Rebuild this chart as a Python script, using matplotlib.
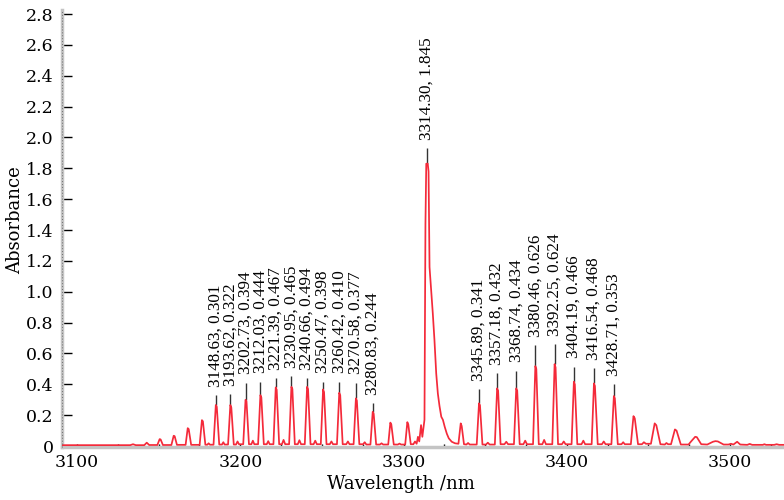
import numpy as np
import matplotlib
matplotlib.use('agg')
import matplotlib.pyplot as plt
from matplotlib.ticker import FuncFormatter, MultipleLocator

plt.rcParams['font.family'] = ['DejaVu Serif']

# spectrum (nm, absorbance), grouped per band
wl = [
    3090.8, 3132.6, 3134.3, 3136.0,
    3141.2, 3142.7, 3144.2,
    3149.2, 3150.6, 3151.2, 3152.6,
    3157.8, 3159.2, 3159.8, 3161.2,
    3166.5, 3167.8, 3168.4, 3169.9,
    3175.1, 3176.5, 3177.1, 3178.6,
    3179.8, 3180.6, 3181.4,
    3183.6, 3185.0, 3185.6, 3187.1,
    3188.8, 3189.6, 3190.4,
    3192.5, 3193.9, 3194.5, 3196.0,
    3197.4, 3198.3, 3199.2,
    3201.8, 3203.2, 3203.8, 3205.3,
    3206.8, 3207.7, 3208.6,
    3210.9, 3212.3, 3212.9, 3214.4,
    3216.2, 3217.1, 3218.0,
    3220.3, 3221.7, 3222.3, 3223.8,
    3225.5, 3226.5, 3227.5,
    3229.9, 3231.3, 3231.9, 3233.4,
    3235.2, 3236.2, 3237.2,
    3239.5, 3240.9, 3241.5, 3243.0,
    3244.9, 3245.9, 3246.9,
    3249.3, 3250.7, 3251.3, 3252.8,
    3254.8, 3255.8, 3256.8,
    3259.2, 3260.6, 3261.2, 3262.7,
    3264.9, 3265.9, 3266.9,
    3269.4, 3270.8, 3271.4, 3272.9,
    3275.2, 3276.2, 3277.2,
    3279.7, 3281.1, 3281.7, 3283.2,
    3285.5, 3286.5, 3287.5,
    3290.6, 3291.9, 3292.5, 3294.0,
    3296.5, 3297.5, 3298.5,
    3301.0, 3302.3, 3302.9, 3304.4,
    3306.0, 3307.0, 3308.0, 3308.8, 3309.6, 3310.7, 3311.5, 3312.1, 3312.8,
    3313.0, 3313.4, 3313.9, 3314.8, 3315.3, 3315.9, 3316.9, 3317.9, 3318.9,
    3320.0, 3321.0, 3322.0, 3323.1, 3324.1, 3325.2, 3326.5, 3327.7, 3329.5, 3331.5,
    3333.6, 3335.0, 3335.6, 3337.0,
    3338.5, 3339.5, 3340.5,
    3344.8, 3346.2, 3346.8, 3348.3,
    3350.5, 3351.6, 3352.7,
    3355.9, 3357.3, 3357.9, 3359.4,
    3361.8, 3362.9, 3364.0,
    3367.6, 3369.0, 3369.6, 3371.1,
    3373.4, 3374.5, 3375.6,
    3379.3, 3380.7, 3381.3, 3382.8,
    3385.0, 3386.1, 3387.2,
    3391.1, 3392.5, 3393.1, 3394.6,
    3397.0, 3398.1, 3399.2,
    3402.9, 3404.3, 3404.9, 3406.4,
    3409.0, 3410.1, 3411.2,
    3415.2, 3416.6, 3417.2, 3418.9,
    3421.5, 3422.6, 3423.7,
    3427.3, 3428.8, 3429.4, 3431.2,
    3433.5, 3434.5, 3435.5,
    3439.2, 3440.8, 3441.6, 3443.6,
    3446.0, 3447.2, 3448.4,
    3451.5, 3453.8, 3454.8, 3457.3,
    3460.0, 3461.0, 3462.0,
    3463.8, 3466.2, 3467.2, 3469.8,
    3474.5, 3476.5, 3478.6, 3479.6, 3482.3,
    3486.0, 3489.5, 3491.0, 3492.5, 3496.0,
    3499.0, 3500.5, 3502.0, 3504.3, 3506.2,
    3510.5, 3512.0, 3513.5, 3520.0, 3521.0, 3522.0, 3527.0, 3528.5, 3530.0, 3533.0,
]
ab = [
    0.006, 0.006, 0.012, 0.006,
    0.006, 0.022, 0.007,
    0.007, 0.045, 0.043, 0.007,
    0.007, 0.067, 0.064, 0.008,
    0.008, 0.116, 0.110, 0.008,
    0.008, 0.168, 0.160, 0.009,
    0.009, 0.018, 0.009,
    0.009, 0.266, 0.255, 0.010,
    0.010, 0.025, 0.010,
    0.010, 0.266, 0.250, 0.010,
    0.010, 0.030, 0.012,
    0.012, 0.300, 0.290, 0.012,
    0.012, 0.035, 0.012,
    0.012, 0.330, 0.315, 0.012,
    0.012, 0.032, 0.012,
    0.012, 0.380, 0.365, 0.012,
    0.012, 0.040, 0.012,
    0.012, 0.384, 0.370, 0.012,
    0.012, 0.038, 0.012,
    0.012, 0.384, 0.370, 0.012,
    0.012, 0.035, 0.012,
    0.012, 0.367, 0.350, 0.012,
    0.012, 0.030, 0.012,
    0.012, 0.345, 0.330, 0.012,
    0.012, 0.030, 0.012,
    0.012, 0.309, 0.295, 0.012,
    0.012, 0.025, 0.010,
    0.010, 0.222, 0.210, 0.010,
    0.010, 0.018, 0.010,
    0.010, 0.152, 0.140, 0.010,
    0.010, 0.016, 0.010,
    0.010, 0.155, 0.140, 0.012,
    0.012, 0.030, 0.015, 0.060, 0.030, 0.136, 0.060, 0.110, 0.170,
    0.600, 1.440, 1.830, 1.830, 1.780, 1.160, 1.010, 0.860, 0.690,
    0.470, 0.340, 0.260, 0.190, 0.170, 0.125, 0.080, 0.050, 0.028, 0.018,
    0.015, 0.147, 0.130, 0.012,
    0.010, 0.020, 0.010,
    0.010, 0.277, 0.265, 0.010,
    0.010, 0.022, 0.010,
    0.010, 0.374, 0.360, 0.012,
    0.012, 0.028, 0.012,
    0.012, 0.374, 0.360, 0.012,
    0.012, 0.035, 0.012,
    0.012, 0.518, 0.500, 0.012,
    0.012, 0.040, 0.012,
    0.012, 0.531, 0.510, 0.012,
    0.012, 0.030, 0.012,
    0.012, 0.417, 0.400, 0.012,
    0.012, 0.035, 0.012,
    0.012, 0.406, 0.390, 0.012,
    0.012, 0.030, 0.012,
    0.012, 0.324, 0.310, 0.012,
    0.012, 0.025, 0.012,
    0.012, 0.194, 0.180, 0.012,
    0.012, 0.025, 0.015,
    0.015, 0.147, 0.135, 0.012,
    0.010, 0.020, 0.012,
    0.012, 0.108, 0.100, 0.010,
    0.010, 0.035, 0.060, 0.058, 0.012,
    0.010, 0.028, 0.032, 0.030, 0.010,
    0.010, 0.015, 0.010, 0.028, 0.010,
    0.008, 0.014, 0.008, 0.008, 0.012, 0.008, 0.008, 0.012, 0.008, 0.008,
]

# peak labels as printed, with where the leader line sits and how high it reaches
label_wl = [3148.63, 3193.62, 3202.73, 3212.03, 3221.39, 3230.95, 3240.66,
            3250.47, 3260.42, 3270.58, 3280.83, 3314.30, 3345.89, 3357.18,
            3368.74, 3380.46, 3392.25, 3404.19, 3416.54, 3428.71]
label_abs = [0.301, 0.322, 0.394, 0.444, 0.467, 0.465, 0.494, 0.398, 0.410,
             0.377, 0.244, 1.845, 0.341, 0.432, 0.434, 0.626, 0.624, 0.466,
             0.468, 0.353]
leader_x = [3185.0, 3193.9, 3203.2, 3212.3, 3221.7, 3231.3, 3240.9, 3250.7,
            3260.6, 3270.8, 3281.1, 3314.3, 3346.2, 3357.3, 3369.0, 3380.7,
            3392.5, 3404.3, 3416.6, 3428.8]
leader_top = [0.330, 0.335, 0.410, 0.417, 0.439, 0.454, 0.439, 0.417, 0.417,
              0.410, 0.280, 1.930, 0.367, 0.471, 0.488, 0.655, 0.661, 0.514,
              0.503, 0.400]

fig = plt.figure(figsize=(7.84, 5.0), dpi=100)
ax = fig.add_axes([62 / 784, 53 / 500, 1 - 62 / 784, 437 / 500])

ax.plot(wl, ab, color='#f42a3a', lw=1.25, zorder=3)

base = np.interp(leader_x, wl, ab)
ax.vlines(leader_x, base, leader_top, color='#333333', lw=1.0, zorder=2)
for x, top, w, a in zip(leader_x, leader_top, label_wl, label_abs):
    ax.annotate(f'{w:.2f}, {a:.3f}', (x, top), xytext=(0, 6),
                textcoords='offset points', rotation=90, ha='center',
                va='bottom', fontsize=12.3, family='Liberation Serif')

ax.set_xlim(3090.8, 3533)
ax.set_ylim(-0.006, 2.826)
ax.xaxis.set_major_locator(MultipleLocator(100))
ax.xaxis.set_minor_locator(MultipleLocator(25))
ax.yaxis.set_major_locator(MultipleLocator(0.2))
ax.yaxis.set_major_formatter(FuncFormatter(lambda v, p: '0' if abs(v) < 1e-9 else f'{v:.1f}'))

ax.tick_params(axis='y', direction='in', length=7, width=1, pad=6,
               labelsize=12.5, colors='black')
ax.tick_params(axis='x', which='both', direction='in', length=2, width=1,
               pad=5, labelsize=12.5)

for s in ['top', 'right']:
    ax.spines[s].set_visible(False)
for s in ['left', 'bottom']:
    ax.spines[s].set_color('#c4c4c4')
    ax.spines[s].set_linewidth(2.5)
# dotted texture along the left axis line
ax.plot([0, 0], [0, 1], transform=ax.transAxes, color='#707070', lw=0.7,
        ls=(0, (1, 2)), clip_on=False, zorder=4)

ax.set_xlabel('Wavelength /nm', fontsize=13)
ax.set_ylabel('Absorbance', fontsize=13)
ax.xaxis.set_label_coords(0.47, -0.064)
ax.yaxis.set_label_coords(-0.052, 0.52)

fig.savefig('out.png', dpi=100)
